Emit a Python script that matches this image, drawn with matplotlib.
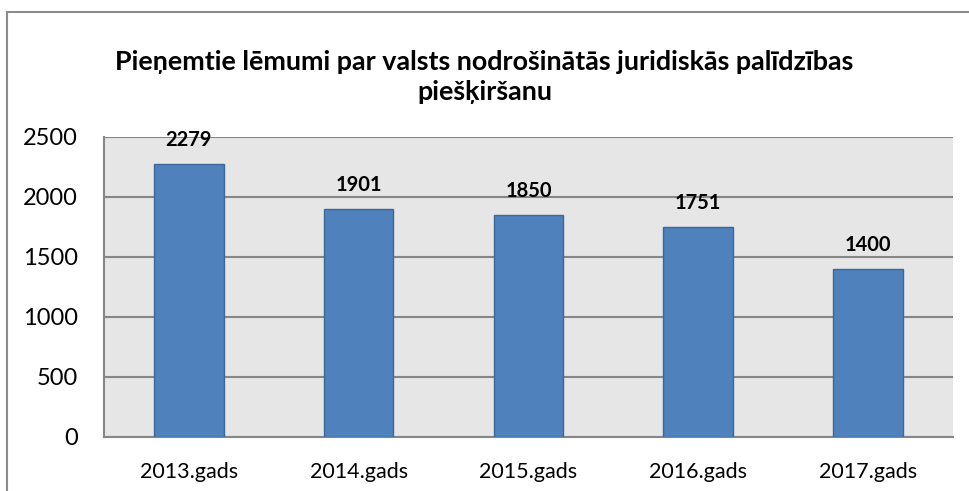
import matplotlib.pyplot as plt
from matplotlib.lines import Line2D

plt.rcParams['font.family'] = ['Lato', 'DejaVu Sans']

# dati
gadi = ['2013.gads', '2014.gads', '2015.gads', '2016.gads', '2017.gads']
lemumi = [2279, 1901, 1850, 1751, 1400]
y_ticks = [0, 500, 1000, 1500, 2000, 2500]

fig = plt.figure(figsize=(9.69, 4.91), dpi=100)
ax = fig.add_axes([0.1073, 0.110, 0.8762, 0.611])
ax.set_facecolor('#e6e6e6')

x = range(len(gadi))
bars = ax.bar(x, lemumi, width=0.41, color='#4f81bd', edgecolor='#3d6796', linewidth=1, zorder=3)
for b, v in zip(bars, lemumi):
    ax.annotate(str(v), (b.get_x() + b.get_width() / 2, v), xytext=(0, 10),
                textcoords='offset points', ha='center', va='bottom',
                fontsize=14.5, fontweight='bold')

ax.set_xlim(-0.5, len(gadi) - 0.5)
ax.set_ylim(0, 2500)
ax.set_yticks(y_ticks)
ax.set_xticks(list(x))
ax.set_xticklabels(gadi, fontsize=15.5)
ax.tick_params(axis='y', labelsize=17, length=0, pad=19)
ax.tick_params(axis='x', length=0, pad=18)
ax.yaxis.grid(True, color='#868686', linewidth=1.5, zorder=0)
ax.set_axisbelow(True)
for s in ['top', 'right']:
    ax.spines[s].set_visible(False)
for s in ['left', 'bottom']:
    ax.spines[s].set_color('#868686')
    ax.spines[s].set_linewidth(1.5)

fig.text(0.5, 1 - 62 / 491, 'Pieņemtie lēmumi par valsts nodrošinātās juridiskās palīdzības',
         ha='center', va='center', fontsize=19.4, fontweight='bold')
fig.text(0.5, 1 - 92 / 491, 'piešķiršanu',
         ha='center', va='center', fontsize=19.4, fontweight='bold')

# rāmis
fig.add_artist(Line2D([7 / 969, 1], [1 - 12 / 491] * 2, color='#8c8c8c', linewidth=1.5))
fig.add_artist(Line2D([7 / 969] * 2, [0, 1 - 12 / 491], color='#8c8c8c', linewidth=1.5))

fig.savefig('out.png', dpi=100)
